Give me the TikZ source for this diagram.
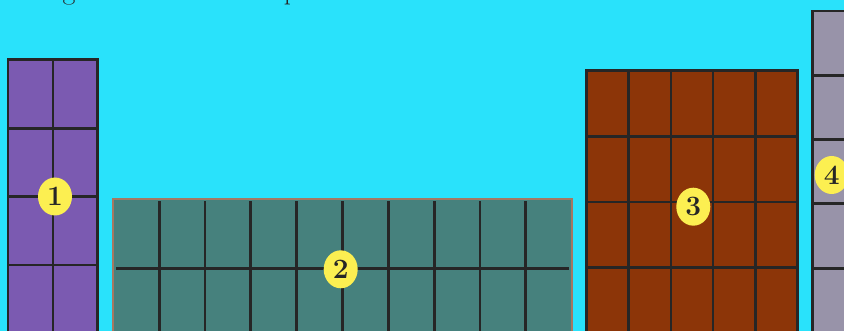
\documentclass[tikz,border=0pt]{standalone}
\usepackage{tikz}
\usetikzlibrary{shapes.geometric}
\definecolor{skybg}{HTML}{29E2FB}
\definecolor{colpurple}{HTML}{7B5AB1}
\definecolor{colteal}{HTML}{46817D}
\definecolor{colbrown}{HTML}{8C3508}
\definecolor{colgrey}{HTML}{9893A9}
\definecolor{badgeyellow}{HTML}{FCEF51}
\definecolor{ink}{HTML}{262626}
\definecolor{edgebrown}{HTML}{A57862}
\tikzset{
  badge/.style={ellipse,fill=badgeyellow,inner sep=0pt,minimum width=34pt,minimum height=38pt,
    text=ink,font=\fontsize{28}{28}\selectfont\bfseries},
  gridline/.style={draw=ink,line width=2.8pt},
  cuttext/.style={anchor=base,inner sep=0pt,text=ink,font=\fontsize{28}{28}\selectfont}
}

\begin{document}
\begin{tikzpicture}[x=1pt,y=-1pt]
\useasboundingbox (0,0) rectangle (844,331);
\fill[skybg] (0,0) rectangle (844,331);
\clip (0,0) rectangle (844,331);
% line of text cut off at the top
\node[cuttext] (topg) at (69,-0.5) {g};
\node[cuttext] (topp) at (291,-0.5) {p};
% bar 1
\fill[colpurple] (8,59.5) rectangle (97.5,340);
\draw[gridline] (53,59.5) -- (53,340);
\foreach \y in {128.3,196.7,265} \draw[gridline] (8,\y) -- (97.5,\y);
\draw[gridline] (8,340) |- (97.5,59.5) -- (97.5,340);
\node[badge] (lab1) at (55,196.5) {1};
% bar 2
\fill[colteal,draw=edgebrown,line width=1.8pt] (113.3,199.3) rectangle (571.7,340);
\foreach \i in {1,...,9} \draw[gridline] ({113.3+45.84*\i},201.5) -- ++(0,140);
\draw[gridline] (116,268.3) -- (569,268.3);
\node[badge] (lab2) at (340.7,269.3) {2};
% bar 3
\fill[colbrown] (586.7,70.7) rectangle (797.3,340);
\foreach \i in {1,...,4} \draw[gridline] ({586.7+42.12*\i},70.7) -- ++(0,270);
\foreach \y in {136.4,202.1,267.8} \draw[gridline] (586.7,\y) -- (797.3,\y);
\draw[gridline] (586.7,340) |- (797.3,70.7) -- (797.3,340);
\node[badge] (lab3) at (693.3,206.7) {3};
% bar 4
\fill[colgrey] (812.7,11) rectangle (860,340);
\foreach \y in {75.3,139.6,203.9,268.2} \draw[gridline] (812.7,\y) -- (860,\y);
\draw[gridline] (812.7,340) |- (860,11);
\node[badge] (lab4) at (831.7,175) {4};
\end{tikzpicture}
\end{document}
